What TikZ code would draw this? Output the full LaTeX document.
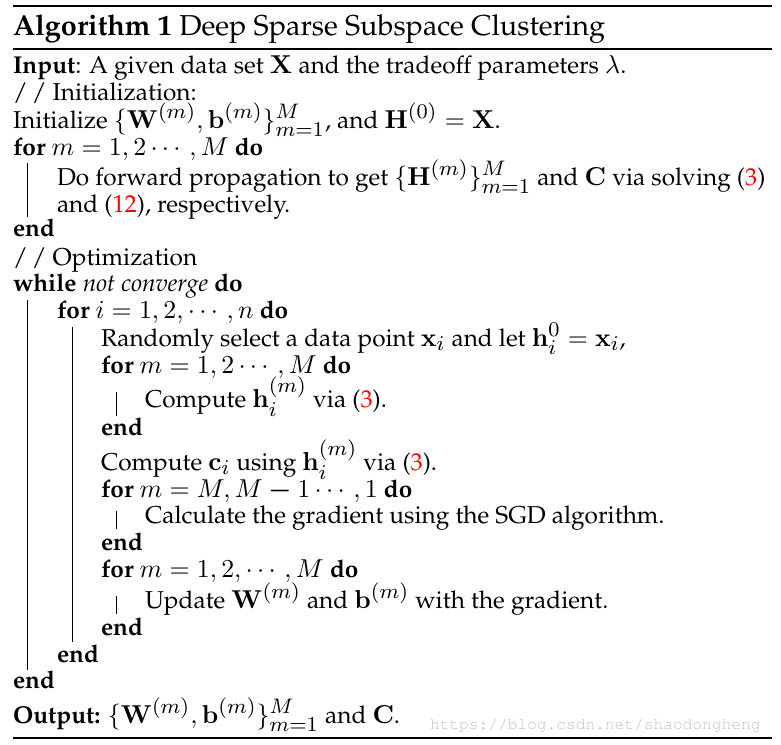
\RequirePackage{fix-cm}
\documentclass[tikz,border=0pt]{standalone}
\usepackage[T1]{fontenc}
\renewcommand{\rmdefault}{ppl}
\usepackage{amsmath}
\usepackage{graphicx}
\usepackage{xcolor}
\DeclareMathSizes{10}{10.6}{8.6}{6.4}
\newcommand{\algsc}[1]{\scalebox{2.44}{\fontsize{10}{12}\selectfont #1}}
\newcommand{\algtitle}[1]{\scalebox{2.44}{\fontsize{11.8}{14}\selectfont #1}}
\newcommand{\eqr}[1]{({\color{red}#1})}
\begin{document}
\begin{tikzpicture}[x=1pt,y=-1pt,
  line/.style={anchor=base west,inner sep=0pt,outer sep=0pt},
  bar/.style={line width=0.9pt},
  rulethick/.style={line width=2pt},
  rulethin/.style={line width=1.2pt}]
\useasboundingbox (0,0) rectangle (781,744);
% rules
\coordinate (r1a) at (13,6); \coordinate (r1b) at (772,6);
\coordinate (r2a) at (13,49); \coordinate (r2b) at (772,49);
\coordinate (r3a) at (13,738); \coordinate (r3b) at (772,738);
\draw[rulethick] (r1a) -- (r1b);
\draw[rulethin] (r2a) -- (r2b);
\draw[rulethick] (r3a) -- (r3b);
% text
\node[line] (title) at (13,35) {\algtitle{\textbf{Algorithm 1} Deep Sparse Subspace Clustering}};
\node[line] (l1) at (13,73) {\algsc{\textbf{Input}: A given data set $\mathbf{X}$ and the tradeoff parameters $\lambda$.}};
\node[line] (l2) at (13,100) {\algsc{/\,/ Initialization:}};
\node[line] (l3) at (13,128) {\algsc{Initialize $\{\mathbf{W}^{(m)},\mathbf{b}^{(m)}\}_{m=1}^M$, and $\mathbf{H}^{(0)}=\mathbf{X}$.}};
\node[line] (l4) at (13,155) {\algsc{\textbf{for} $m=1,2\cdots,M$ \textbf{do}}};
\node[line] (l5) at (57,185) {\algsc{Do forward propagation to get $\{\mathbf{H}^{(m)}\}_{m=1}^M$ and $\mathbf{C}$ via solving \eqr{3}}};
\node[line] (l6) at (57,212) {\algsc{and \eqr{12}, respectively.}};
\node[line] (l7) at (13,236) {\algsc{\textbf{end}}};
\node[line] (l8) at (13,265) {\algsc{/\,/ Optimization}};
\node[line] (l9) at (13,291) {\algsc{\textbf{while} \emph{not converge} \textbf{do}}};
\node[line] (l10) at (57,318) {\algsc{\textbf{for} $i=1,2,\cdots,n$ \textbf{do}}};
\node[line] (l11) at (101,346) {\algsc{Randomly select a data point $\mathbf{x}_i$ and let $\mathbf{h}_i^0=\mathbf{x}_i$,}};
\node[line] (l12) at (101,373) {\algsc{\textbf{for} $m=1,2\cdots,M$ \textbf{do}}};
\node[line] (l13) at (145,407) {\algsc{Compute $\mathbf{h}_i^{(m)}$ via \eqr{3}.}};
\node[line] (l14) at (101,435) {\algsc{\textbf{end}}};
\node[line] (l15) at (101,470) {\algsc{Compute $\mathbf{c}_i$ using $\mathbf{h}_i^{(m)}$ via \eqr{3}.}};
\node[line] (l16) at (101,497) {\algsc{\textbf{for} $m=M,M\boldsymbol{-}1\cdots,1$ \textbf{do}}};
\node[line] (l17) at (145,523) {\algsc{Calculate the gradient using the SGD algorithm.}};
\node[line] (l18) at (101,550) {\algsc{\textbf{end}}};
\node[line] (l19) at (101,577) {\algsc{\textbf{for} $m=1,2,\cdots,M$ \textbf{do}}};
\node[line] (l20) at (145,608) {\algsc{Update $\mathbf{W}^{(m)}$ and $\mathbf{b}^{(m)}$ with the gradient.}};
\node[line] (l21) at (101,635) {\algsc{\textbf{end}}};
\node[line] (l22) at (57,662) {\algsc{\textbf{end}}};
\node[line] (l23) at (13,688) {\algsc{\textbf{end}}};
\node[line] (l24) at (13,723) {\algsc{\textbf{Output:} $\{\mathbf{W}^{(m)},\mathbf{b}^{(m)}\}_{m=1}^M$ and $\mathbf{C}$.}};
\node[line,text=black!25,font=\fontfamily{pcr}\fontsize{16.2}{18}\selectfont] (wm) at (430,729) {https://blog.csdn.net/shaodongheng};
% block bars
\draw[bar] (27,163) -- (27,217);
\draw[bar] (27,300) -- (27,670);
\draw[bar] (72,327) -- (72,642);
\draw[bar] (116,392) -- (116,416);
\draw[bar] (116,511) -- (116,529);
\draw[bar] (116,596) -- (116,614);
\end{tikzpicture}
\end{document}
